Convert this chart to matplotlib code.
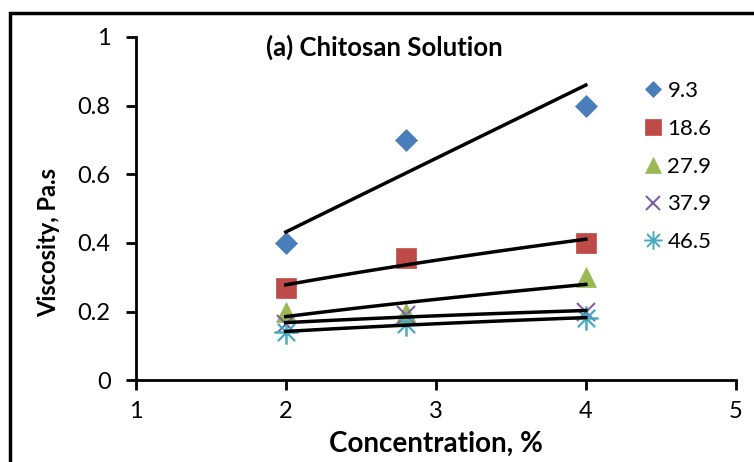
import numpy as np
import matplotlib.pyplot as plt
from matplotlib.patches import Rectangle

plt.rcParams['font.family'] = ['Lato', 'DejaVu Sans']

conc = [2, 2.8, 4]
labels = ['9.3', '18.6', '27.9', '37.9', '46.5']
visc = [
    [0.40, 0.70, 0.80],
    [0.27, 0.355, 0.40],
    [0.20, 0.195, 0.30],
    [0.165, 0.19, 0.20],
    [0.14, 0.165, 0.18],
]
markers = ['D', 's', '^', 'x', '$\u2733$']
colours = ['#4a7ebb', '#be4b48', '#98b954', '#7d60a0', '#46aac5']
sizes = [11, 15, 15, 13, 17]

fig = plt.figure(figsize=(7.54, 4.62), dpi=100)
ax = fig.add_axes([0.180, 0.177, 0.796, 0.743])

# outer chart frame
fig.patches.append(Rectangle((10 / 754, -0.1), 1.2, 1 - 13 / 462 + 0.1,
                             transform=fig.transFigure, fill=False,
                             edgecolor='black', linewidth=2.5))

for y, lab, m, c, s in zip(visc, labels, markers, colours, sizes):
    ax.plot(conc, y, linestyle='none', marker=m, color=c, markersize=s,
            markeredgewidth=1.5 if m == 'x' else 0.5, label=lab)

# power-law trendlines
xs = np.linspace(conc[0], conc[-1], 50)
for y in visc:
    b, a = np.polyfit(np.log(conc), np.log(y), 1)
    ax.plot(xs, np.exp(a) * xs ** b, color='black', linewidth=2.5)

ax.set_xlim(1, 5)
ax.set_ylim(0, 1)
ax.set_xticks([1, 2, 3, 4, 5])
ax.set_yticks([0, 0.2, 0.4, 0.6, 0.8, 1])
ax.set_yticklabels(['0', '0.2', '0.4', '0.6', '0.8', '1'])
for side in ['top', 'right']:
    ax.spines[side].set_visible(False)
for side in ['left', 'bottom']:
    ax.spines[side].set_linewidth(2)
ax.tick_params(direction='out', length=7, width=2, labelsize=17)
ax.tick_params(axis='y', pad=11)
ax.tick_params(axis='x', pad=8)

ax.set_xlabel('Concentration, %', fontsize=20, fontweight='bold')
ax.set_ylabel('Viscosity, Pa.s', fontsize=17, fontweight='bold')
ax.xaxis.set_label_coords(0.5, -0.184)
ax.yaxis.set_label_coords(-0.145, 0.40)
for lbl in (ax.xaxis.label, ax.yaxis.label):
    lbl.set_va('center')
    lbl.set_ha('center')

ax.text(2.66, 0.97, '(a) Chitosan Solution', fontsize=18.5, fontweight='bold',
        ha='center', va='center')

ax.legend(loc='upper left', bbox_to_anchor=(0.81, 0.93), frameon=False,
          fontsize=16, handletextpad=0.15, labelspacing=0.8, handlelength=1.0,
          markerscale=0.75)

fig.savefig('out.png', dpi=100)
